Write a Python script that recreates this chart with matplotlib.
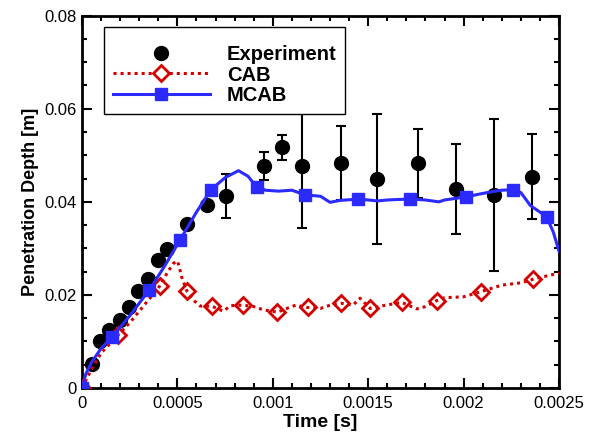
import matplotlib
matplotlib.use("Agg")
import matplotlib.pyplot as plt
from matplotlib.lines import Line2D
from matplotlib.ticker import MultipleLocator, FuncFormatter

plt.rcParams['font.family'] = ['Liberation Sans', 'DejaVu Sans']

# Experiment data
exp_t = [0.0, 0.00005, 0.000094, 0.000141, 0.0002, 0.000246, 0.000295, 0.000348,
         0.0004, 0.000447, 0.000552, 0.000653, 0.000753, 0.000954, 0.00105,
         0.001155, 0.001356, 0.001545, 0.00176, 0.00196, 0.00216, 0.00236]
exp_d = [0.0, 0.0052, 0.0101, 0.0125, 0.0146, 0.0174, 0.0209, 0.0234,
         0.0275, 0.0299, 0.0352, 0.0394, 0.0413, 0.0478, 0.0517,
         0.0478, 0.0483, 0.0449, 0.0483, 0.0428, 0.0415, 0.0454]
exp_err = [0, 0, 0, 0, 0, 0, 0, 0,
           0, 0, 0, 0, 0.0047, 0.0030, 0.0027,
           0.0135, 0.0080, 0.0140, 0.0074, 0.0097, 0.0163, 0.0091]

# MCAB curve
mcab_t = [0.0, 0.00002, 0.00005, 0.0001, 0.000156, 0.00025, 0.000353, 0.00043,
          0.000514, 0.0006, 0.000676, 0.00075, 0.00082, 0.00087, 0.0009, 0.00096,
          0.00103, 0.0011, 0.00117, 0.00125, 0.0013, 0.00135, 0.00145, 0.00155,
          0.0016, 0.00165, 0.00172, 0.0018, 0.00187, 0.0019, 0.002, 0.0021,
          0.00215, 0.0022, 0.00226, 0.0023, 0.00235, 0.0024, 0.002435, 0.00247, 0.0025]
mcab_d = [0.0, 0.003, 0.0055, 0.0085, 0.0109, 0.0155, 0.0211, 0.026,
          0.0318, 0.0378, 0.0426, 0.0452, 0.0467, 0.0455, 0.0440, 0.0425,
          0.0423, 0.0425, 0.0415, 0.0412, 0.0399, 0.0403, 0.0406, 0.0402,
          0.0404, 0.0405, 0.0406, 0.0404, 0.0400, 0.0404, 0.0410, 0.0418,
          0.0422, 0.0425, 0.0426, 0.0420, 0.0392, 0.0378, 0.0368, 0.0335, 0.0294]
mcab_mark_t = [0.0, 0.000156, 0.000353, 0.000514, 0.000676, 0.000916, 0.001169,
               0.001448, 0.00172, 0.002011, 0.00226, 0.002435]
mcab_mark_d = [0.0, 0.0109, 0.0211, 0.0318, 0.0426, 0.0431, 0.0415,
               0.0406, 0.0406, 0.0410, 0.0426, 0.0368]

# CAB curve
cab_t = [0.0, 0.00005, 0.0001, 0.000187, 0.00025, 0.0003, 0.00035, 0.000409,
         0.00045, 0.00048, 0.0005, 0.00051, 0.000522, 0.000549, 0.00058, 0.00062,
         0.00068, 0.00074, 0.00078, 0.000845, 0.0009, 0.00095, 0.001024, 0.00108,
         0.00112, 0.001183, 0.00125, 0.0013, 0.00136, 0.00142, 0.001457, 0.00151,
         0.00158, 0.00162, 0.001676, 0.001754, 0.0018, 0.00186, 0.0019, 0.002,
         0.00209, 0.0022, 0.0023, 0.002366, 0.0025]
cab_d = [0.0, 0.004, 0.0075, 0.0113, 0.014, 0.0165, 0.019, 0.022,
         0.025, 0.0268, 0.0273, 0.026, 0.0239, 0.0209, 0.0190, 0.0176,
         0.0176, 0.0165, 0.0177, 0.0178, 0.0175, 0.0168, 0.0163, 0.0172,
         0.0178, 0.0173, 0.0171, 0.0178, 0.0182, 0.0178, 0.0193, 0.0171,
         0.0177, 0.0180, 0.0184, 0.0170, 0.0175, 0.0188, 0.0194, 0.0196,
         0.0207, 0.0221, 0.0226, 0.0234, 0.0247]
cab_mark_t = [0.0, 0.000187, 0.000409, 0.000549, 0.00068, 0.000845, 0.001024,
              0.001183, 0.00136, 0.00151, 0.001676, 0.00186, 0.00209, 0.002366]
cab_mark_d = [0.0, 0.0113, 0.022, 0.0209, 0.0176, 0.0178, 0.0163,
              0.0173, 0.0182, 0.0171, 0.0184, 0.0188, 0.0207, 0.0234]

x_ticks = [0, 0.0005, 0.001, 0.0015, 0.002, 0.0025]
y_ticks = [0, 0.02, 0.04, 0.06, 0.08]

BLUE = '#2b2bff'
RED = '#d40000'

fig = plt.figure(figsize=(6.05, 4.37), dpi=100)
ax = fig.add_axes([0.1355, 0.1121, 0.7885, 0.852])

# Experiment error bars
et = [t for t, e in zip(exp_t, exp_err) if e > 0]
ed = [d for d, e in zip(exp_d, exp_err) if e > 0]
ee = [e for e in exp_err if e > 0]
ax.errorbar(et, ed, yerr=ee, fmt='none', ecolor='black', elinewidth=1.5,
            capsize=3.5, capthick=1.5, zorder=2)
ax.plot(exp_t, exp_d, 'o', color='black', markersize=10, zorder=3)

ls_dot = (0, (1.0, 1.3))
ax.plot(cab_t, cab_d, color=RED, lw=2.2, linestyle=ls_dot, zorder=4)
ax.plot(cab_mark_t, cab_mark_d, 'D', markerfacecolor='none', markeredgecolor=RED,
        markeredgewidth=2, markersize=8, linestyle='none', zorder=4)
ax.plot(mcab_t, mcab_d, color=BLUE, lw=2.2, zorder=5)
ax.plot(mcab_mark_t, mcab_mark_d, 's', color=BLUE, markersize=8, linestyle='none', zorder=5)

ax.set_xlim(0, 0.0025)
ax.set_ylim(0, 0.08)
ax.set_xticks(x_ticks)
ax.set_yticks(y_ticks)
fmt = FuncFormatter(lambda v, p: '%g' % round(v, 6))
ax.xaxis.set_major_formatter(fmt)
ax.yaxis.set_major_formatter(fmt)
ax.xaxis.set_minor_locator(MultipleLocator(0.0001))
ax.yaxis.set_minor_locator(MultipleLocator(0.005))
ax.tick_params(which='both', direction='in', top=True, right=True, width=1.5,
               labelsize=12)
ax.tick_params(which='major', length=7)
ax.tick_params(which='minor', length=3.5)
ax.tick_params(axis='x', pad=6)
for s in ax.spines.values():
    s.set_linewidth(2)

ax.set_xlabel('Time [s]', fontsize=14, fontweight='bold', labelpad=2)
ax.set_ylabel('Penetration Depth [m]', fontsize=13, fontweight='bold', labelpad=4)

handles = [
    Line2D([], [], marker='o', color='black', linestyle='none', markersize=10),
    Line2D([], [], marker='D', color=RED, linestyle=ls_dot, lw=2.2,
           markerfacecolor='white', markeredgecolor=RED, markeredgewidth=2, markersize=8),
    Line2D([], [], marker='s', color=BLUE, lw=2.2, markersize=8),
]
leg = ax.legend(handles, ['Experiment', 'CAB', 'MCAB'], loc='upper left',
                bbox_to_anchor=(0.046, 0.969), borderaxespad=0, numpoints=1,
                prop={'weight': 'bold', 'size': 14.5}, handlelength=4.8,
                handletextpad=0.85, labelspacing=0.08, borderpad=0.45,
                title=' ', title_fontsize=5,
                fancybox=False, framealpha=1, edgecolor='black')
leg.get_frame().set_linewidth(1)
leg.set_zorder(10)

fig.savefig('out.png', dpi=100)
